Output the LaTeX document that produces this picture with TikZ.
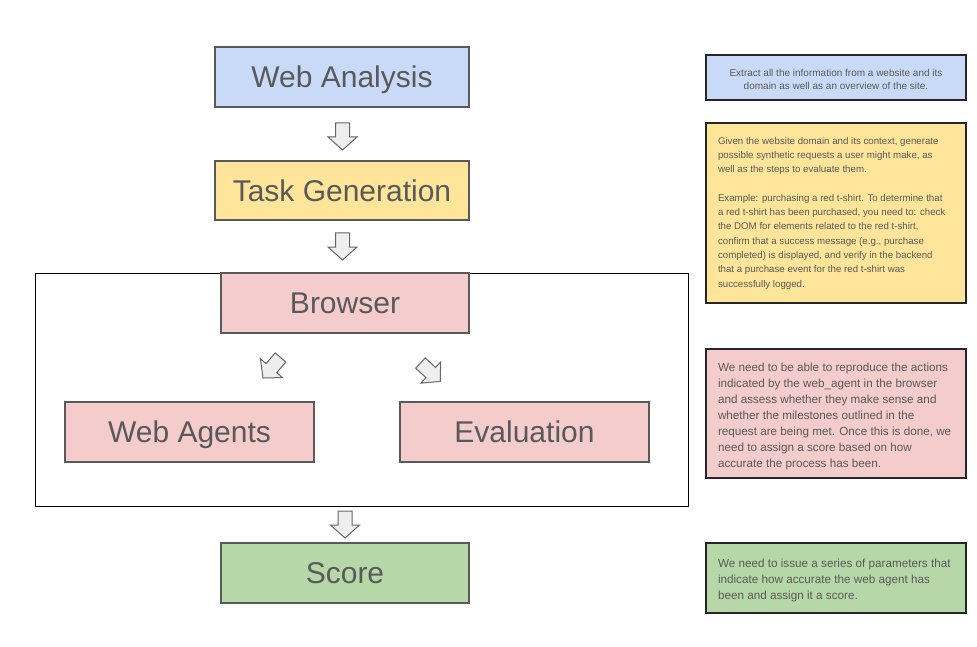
\documentclass[tikz,border=0pt]{standalone}
\usepackage{fontspec}
\setmainfont{Liberation Sans}
\definecolor{txt}{HTML}{595959}
\definecolor{edge}{HTML}{595959}
\definecolor{cblue}{HTML}{C9DAF8}
\definecolor{cyellow}{HTML}{FFE599}
\definecolor{cpink}{HTML}{F4CCCC}
\definecolor{cgreen}{HTML}{B6D7A8}
\definecolor{arrfill}{HTML}{EEEEEE}
\definecolor{arredge}{HTML}{666666}
\newcommand\blockarr[3]{%
  \draw[blockarrow,shift={(#1,#2)},rotate=#3]
    (0,7)--(14,7)--(14,14.5)--(27,0)--(14,-14.5)--(14,-7)--(0,-7)--cycle;}
\begin{document}
\begin{tikzpicture}[x=1pt,y=-1pt,
  mainbox/.style={draw=edge,line width=1.2pt,text=txt,font=\fontsize{30}{34}\selectfont,
    inner sep=0pt,text height=21.5pt,text depth=0pt},
  sidebox/.style={draw=black!85,line width=1.3pt,text=txt,inner sep=0pt},
  blockarrow/.style={draw=arredge,fill=arrfill,line width=1pt,line join=miter},
  frame/.style={draw=black,line width=1pt}]
\useasboundingbox[fill=white] (0,0) rectangle (977,647);
% main flow
\node[mainbox,fill=cblue,minimum width=254,minimum height=60] (wa) at (342,77) {Web Analysis};
\node[mainbox,fill=cyellow,minimum width=254,minimum height=59] (tg) at (342,190.5) {Task Generation};
\draw[frame] (35,273) rectangle (688,506);
\node[mainbox,fill=cpink,minimum width=248,minimum height=60] (br) at (345,303) {Browser};
\node[mainbox,fill=cpink,minimum width=249,minimum height=60] (ag) at (189.5,432) {Web Agents};
\node[mainbox,fill=cpink,minimum width=249,minimum height=60] (ev) at (524.5,432) {Evaluation};
\node[mainbox,fill=cgreen,minimum width=248,minimum height=60] (sc) at (345,573) {Score};
% block arrows
\blockarr{342.5}{123}{-90}
\blockarr{342.5}{233}{-90}
\blockarr{280.5}{357.5}{-130.5}
\blockarr{420.5}{363}{-43}
\blockarr{345}{511}{-90}
% side notes
\node[sidebox,fill=cblue,minimum width=260,minimum height=45,align=center,
  font=\fontsize{10}{13}\selectfont] (n1) at (836,77.5)
  {\rule{0pt}{11pt}Extract all the information from a website and its\\domain as well as an overview of the site.};
\node[sidebox,fill=cyellow,minimum width=260,minimum height=180,
  font=\fontsize{9.7}{14.3}\selectfont] (n2) at (836,213)
  {\begin{minipage}{236pt}\raggedright
  Given the website domain and its context, generate\\
  possible synthetic requests a user might make, as\\
  well as the steps to evaluate them.\\[14.3pt]
  Example: purchasing a red t-shirt. To determine that\\
  a red t-shirt has been purchased, you need to: check\\
  the DOM for elements related to the red t-shirt,\\
  confirm that a success message (e.g., purchase\\
  completed) is displayed, and verify in the backend\\
  that a purchase event for the red t-shirt was\\
  successfully logged.\end{minipage}};
\node[sidebox,fill=cpink,minimum width=260,minimum height=129,
  font=\fontsize{11.7}{16}\selectfont] (n3) at (836,413.5)
  {\begin{minipage}{236pt}\raggedright\vspace*{6pt}
  We need to be able to reproduce the actions\\
  indicated by the web\_agent in the browser\\
  and assess whether they make sense and\\
  whether the milestones outlined in the\\
  request are being met. Once this is done, we\\
  need to assign a score based on how\\
  accurate the process has been.\end{minipage}};
\node[sidebox,fill=cgreen,minimum width=260,minimum height=70,
  font=\fontsize{11.7}{16}\selectfont] (n4) at (836,578)
  {\begin{minipage}{236pt}\raggedright\vspace*{4pt}
  We need to issue a series of parameters that\\
  indicate how accurate the web agent has\\
  been and assign it a score.\end{minipage}};
\end{tikzpicture}
\end{document}
